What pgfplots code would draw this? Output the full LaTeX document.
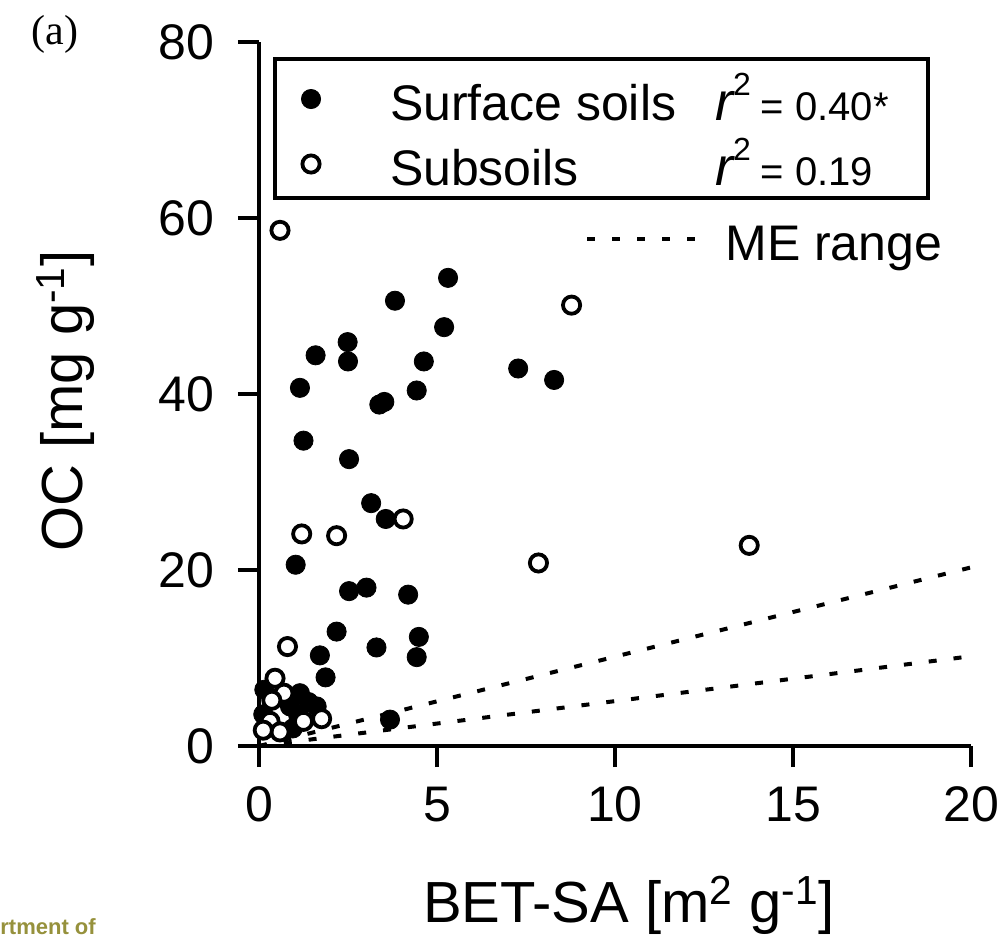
\documentclass[border=0pt]{standalone}
\usepackage{fontspec}
\setmainfont{Liberation Sans}
\newfontfamily\timesfont{Liberation Serif}
\usepackage{pgfplots}
\pgfplotsset{compat=1.18}
\definecolor{olivetext}{RGB}{150,145,60}

% surface soils: BET-SA [m2/g], OC [mg/g]
\pgfplotstableread{
x y
5.31 53.2
3.82 50.6
5.20 47.6
1.59 44.4
2.49 45.9
2.50 43.7
4.63 43.7
1.15 40.7
4.43 40.4
3.38 38.8
3.52 39.1
7.28 42.9
8.29 41.6
1.25 34.7
2.53 32.6
3.15 27.6
3.56 25.8
1.03 20.6
2.53 17.6
3.02 18.0
4.19 17.2
2.18 13.0
4.49 12.4
3.30 11.2
4.43 10.1
1.71 10.3
1.87 7.8
3.68 3.0
1.15 6.0
1.39 5.0
0.87 4.5
1.62 4.5
1.10 3.5
0.15 6.4
0.12 3.6
0.95 2.0
}\surface

% subsoils
\pgfplotstableread{
x y
0.59 58.6
8.78 50.1
4.05 25.8
1.20 24.1
2.18 23.9
7.85 20.8
13.77 22.8
0.80 11.3
0.45 7.7
0.70 6.0
0.36 5.2
0.31 2.8
0.59 1.6
1.25 2.8
1.76 3.1
0.12 1.8
}\subsoil

\pgfplotsset{
  ptlegend/.style={legend image code/.code={%
    \path[draw=none, fill=none] (0pt,-8pt) rectangle (36pt,8pt);
    \draw[##1] plot coordinates {(18pt,-1.5pt)};}},
}

\begin{document}
\begin{tikzpicture}
\path[use as bounding box] (-129.5pt,-96pt) rectangle (370pt,373pt);

% monolayer-equivalent range (drawn first, below the points)
\begin{axis}[
  scale only axis, width=356pt, height=352pt,
  xmin=0, xmax=20, ymin=0, ymax=80,
  hide axis,
  legend style={at={(axis description cs:0.458,0.7642)}, anchor=north west,
    draw=none, fill=none, inner sep=0pt, column sep=13pt,
    nodes={inner sep=0pt, text height=26pt, text depth=2pt,
      font=\fontsize{25}{30}\selectfont}},
  legend cell align=left,
  legend image code/.code={%
    \path[draw=none, fill=none] (0pt,-8pt) rectangle (55pt,8pt);
    \draw[#1] (0pt,-1.5pt) -- (55pt,-1.5pt);},
]
\addplot[black, line width=2pt, dash pattern=on 4pt off 8.5pt] coordinates {(0,0) (20,20.3)};
\addlegendentry{ME range}
\addplot[black, line width=2pt, dash pattern=on 4pt off 8.5pt, forget plot] coordinates {(0,0) (20,10.2)};
\end{axis}

\begin{axis}[
  scale only axis, width=356pt, height=352pt,
  xmin=0, xmax=20, ymin=0, ymax=80,
  clip=false,
  axis x line*=bottom, axis y line*=left,
  axis line style={line width=2pt, black},
  tick align=outside, major tick length=10.5pt,
  every tick/.style={line width=2pt, black},
  xtick={0,5,...,20}, ytick={0,20,...,80},
  tick label style={font=\fontsize{25}{30}\selectfont},
  xticklabel style={yshift=-6.5pt},
  yticklabel style={xshift=-8.5pt},
  /pgf/number format/assume math mode=true,
  xlabel={BET-SA [m\textsuperscript{2} g\textsuperscript{-1}]},
  ylabel={OC [mg g\textsuperscript{-1}]},
  label style={font=\fontsize{29}{34}\selectfont},
  xlabel style={at={(axis description cs:0.5197,-0.2514)}, anchor=base},
  ylabel style={at={(axis description cs:-0.2472,0.49)}, anchor=base},
  legend style={at={(axis description cs:0.0197,0.9787)}, anchor=north west,
    draw=black, line width=2pt, fill=white,
    inner xsep=0pt, inner ysep=4.5pt, row sep=4.5pt, column sep=21.5pt,
    nodes={inner sep=0pt, text height=26pt, text depth=2pt,
      font=\fontsize{25}{30}\selectfont}},
  legend cell align=left,
]
\addplot[only marks, mark=*, mark size=4.8pt,
  mark options={fill=black, draw=black, line width=0.4pt}, ptlegend]
  table[x=x, y=y] {\surface};
\addlegendentry{\makebox[269pt][l]{\makebox[162.5pt][l]{Surface soils}{\fontsize{27}{30}\selectfont\itshape r}\raisebox{12.5pt}{\fontsize{16}{18}\selectfont 2}\hspace{5pt}{\fontsize{20}{24}\selectfont = 0.40*}}}
\addplot[only marks, mark=*, mark size=4.3pt,
  mark options={fill=white, draw=black, line width=1.9pt}, ptlegend]
  table[x=x, y=y] {\subsoil};
\addlegendentry{\makebox[269pt][l]{\makebox[162.5pt][l]{Subsoils}{\fontsize{27}{30}\selectfont\itshape r}\raisebox{12.5pt}{\fontsize{16}{18}\selectfont 2}\hspace{5pt}{\fontsize{20}{24}\selectfont = 0.19}}}
\node[font=\timesfont\fontsize{21}{25}\selectfont] at (axis description cs:-0.2865,1.011) {(a)};
\end{axis}

\node[anchor=base west, inner sep=0pt, font=\bfseries\fontsize{11}{13}\selectfont, text=olivetext] at (-129.5pt,-94pt) {rtment of};
\end{tikzpicture}
\end{document}
